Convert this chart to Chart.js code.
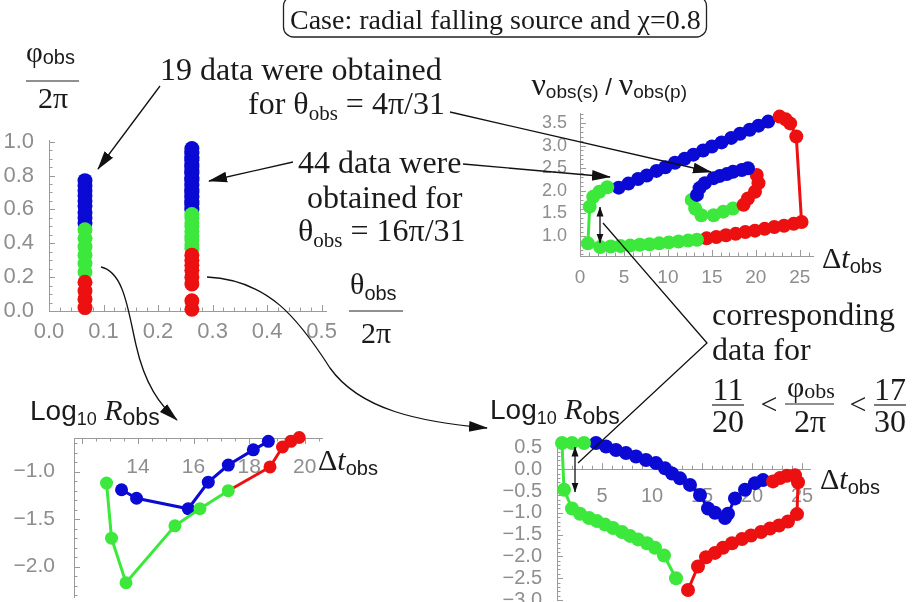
<!DOCTYPE html>
<html>
<head>
<meta charset="utf-8">
<script src="https://cdn.jsdelivr.net/npm/chart.js@4.4.1/dist/chart.umd.min.js"></script>
<style>
  html, body { margin: 0; padding: 0; background: #fff; width: 915px; height: 602px; overflow: hidden; }
  canvas { position: absolute; }
  svg { position: absolute; left: 0; top: 0; }
</style>
</head>
<body>
<canvas id="chartA" width="346" height="231" style="left:0px;top:120px;width:346px;height:231px"></canvas>
<canvas id="chartB" width="293" height="203" style="left:540px;top:93px;width:293px;height:203px"></canvas>
<canvas id="chartC" width="342" height="202" style="left:0px;top:418px;width:342px;height:202px"></canvas>
<canvas id="chartD" width="333" height="200" style="left:497px;top:420px;width:333px;height:200px"></canvas>

<svg width="915" height="602" font-family="Liberation Serif" fill="#1a1a1a">
  <defs>
    <marker id="ah" viewBox="0 0 10 10" refX="9.5" refY="5" markerWidth="19" markerHeight="19" markerUnits="userSpaceOnUse" orient="auto-start-reverse">
      <path d="M0,2.2 L10,5 L0,7.8 z" fill="#111"/>
    </marker>
    <marker id="ah2" viewBox="0 0 10 10" refX="9.5" refY="5" markerWidth="10" markerHeight="10" markerUnits="userSpaceOnUse" orient="auto-start-reverse">
      <path d="M0,1.5 L10,5 L0,8.5 z" fill="#111"/>
    </marker>
  </defs>

  <!-- title box -->
  <rect x="283.5" y="-4" width="423" height="41" rx="10" fill="none" stroke="#222" stroke-width="1.3"/>
  <text x="290" y="29" font-size="28">Case: radial falling source and χ=0.8</text>

  <!-- panel A axis labels -->
  <text x="26" y="62" font-size="29">φ<tspan font-family="Liberation Sans" font-size="20" dy="2">obs</tspan></text>
  <line x1="26" y1="81" x2="79" y2="81" stroke="#222" stroke-width="1.2"/>
  <text x="53" y="108" font-size="30" text-anchor="middle">2π</text>

  <text x="350" y="294" font-size="30">θ<tspan font-family="Liberation Sans" font-size="20" dy="6">obs</tspan></text>
  <line x1="349" y1="311" x2="403" y2="311" stroke="#222" stroke-width="1.2"/>
  <text x="376" y="343" font-size="30" text-anchor="middle">2π</text>

  <!-- annotations -->
  <text x="160" y="80" font-size="32">19 data were obtained</text>
  <text x="248" y="114" font-size="32">for θ<tspan font-size="21" dy="6">obs</tspan><tspan dy="-6"> = 4π/31</tspan></text>
  <text x="298" y="173" font-size="32">44 data were</text>
  <text x="307" y="208" font-size="32">obtained for</text>
  <text x="298" y="241" font-size="32">θ<tspan font-size="21" dy="6">obs</tspan><tspan dy="-6"> = 16π/31</tspan></text>

  <text x="712" y="325" font-size="32">corresponding</text>
  <text x="712" y="360" font-size="32">data for</text>
  <text x="728" y="400" font-size="32" text-anchor="middle">11</text>
  <line x1="712" y1="405" x2="744" y2="405" stroke="#222" stroke-width="1.2"/>
  <text x="728" y="432" font-size="32" text-anchor="middle">20</text>
  <text x="769" y="414" font-size="30" text-anchor="middle">&lt;</text>
  <text x="787" y="397" font-size="30">φ<tspan font-size="22" dy="1">obs</tspan></text>
  <line x1="785" y1="404" x2="834" y2="404" stroke="#222" stroke-width="1.2"/>
  <text x="810" y="432" font-size="32" text-anchor="middle">2π</text>
  <text x="858" y="414" font-size="30" text-anchor="middle">&lt;</text>
  <text x="890" y="400" font-size="32" text-anchor="middle">17</text>
  <line x1="874" y1="405" x2="906" y2="405" stroke="#222" stroke-width="1.2"/>
  <text x="890" y="432" font-size="32" text-anchor="middle">30</text>

  <!-- panel B labels -->
  <text x="687" y="95" font-size="32" text-anchor="end">ν<tspan font-family="Liberation Sans" font-size="19" dy="3">obs(s)</tspan><tspan font-family="Liberation Sans" font-size="24" dy="-3"> / </tspan>ν<tspan font-family="Liberation Sans" font-size="19" dy="3">obs(p)</tspan></text>
  <text x="822" y="268" font-size="30">Δ<tspan font-style="italic">t</tspan><tspan font-family="Liberation Sans" font-size="20" dy="5">obs</tspan></text>

  <!-- panel C labels -->
  <text x="30" y="420" font-family="Liberation Sans" font-size="28">Log<tspan font-size="18" dy="5">10</tspan><tspan font-family="Liberation Serif" font-style="italic" font-size="30" dy="-5"> R</tspan><tspan font-size="23" dy="5">obs</tspan></text>
  <text x="318" y="470" font-size="30">Δ<tspan font-style="italic">t</tspan><tspan font-family="Liberation Sans" font-size="20" dy="5">obs</tspan></text>

  <!-- panel D labels -->
  <text x="490" y="419" font-family="Liberation Sans" font-size="28">Log<tspan font-size="18" dy="5">10</tspan><tspan font-family="Liberation Serif" font-style="italic" font-size="30" dy="-5"> R</tspan><tspan font-size="23" dy="5">obs</tspan></text>
  <text x="820" y="489" font-size="30">Δ<tspan font-style="italic">t</tspan><tspan font-family="Liberation Sans" font-size="20" dy="5">obs</tspan></text>

  <!-- arrows and connectors -->
  <g stroke="#111" stroke-width="1.3" fill="none">
    <line x1="160" y1="86" x2="98" y2="169" marker-end="url(#ah)"/>
    <line x1="293" y1="162" x2="209" y2="181" marker-end="url(#ah)"/>
    <line x1="450" y1="112" x2="711" y2="172" marker-end="url(#ah)"/>
    <line x1="463" y1="164" x2="610" y2="177" marker-end="url(#ah)"/>
    <line x1="600" y1="207" x2="600" y2="243" marker-start="url(#ah2)" marker-end="url(#ah2)"/>
    <polyline points="603,223 707,343 578,463"/>
    <line x1="575" y1="447" x2="575" y2="492" marker-start="url(#ah2)" marker-end="url(#ah2)"/>
    <path d="M101,267 C124,272 128,310 136,345 C145,385 160,405 177,420" marker-end="url(#ah)"/>
    <path d="M207,277 C268,280 298,318 330,368 C360,410 420,422 487,428" marker-end="url(#ah)"/>
  </g>
</svg>

<script>
// colours used by the plot
const RED = 'rgb(236,16,16)';
const GREEN = 'rgb(60,232,60)';
const BLUE = 'rgb(10,10,212)';

// panel A: phi_obs/2pi of every image, two theta_obs columns
const thetaCol1 = 0.066;
const phiCol1Red = [0.02, 0.07, 0.12, 0.17];
const phiCol1Green = [0.23, 0.28, 0.33, 0.38, 0.43, 0.48];
const phiCol1Blue = [0.52, 0.55, 0.58, 0.62, 0.65, 0.68, 0.71, 0.74, 0.77];
const thetaCol2 = 0.262;
const phiCol2Red = [0.01, 0.06, 0.16, 0.20, 0.24, 0.27, 0.30, 0.33];
const phiCol2Green = [0.37, 0.39, 0.42, 0.44, 0.47, 0.50, 0.52, 0.55, 0.57];
const phiCol2Blue = [0.60, 0.61, 0.63, 0.64, 0.65, 0.67, 0.68, 0.70, 0.71, 0.72, 0.74, 0.75, 0.77, 0.78,
  0.79, 0.81, 0.82, 0.83, 0.85, 0.86, 0.87, 0.89, 0.90, 0.91, 0.93, 0.94, 0.96];

// panel B: frequency ratio vs delta t  [dt, ratio]
const bOuterGreen = [[3.1, 2.08], [2.2, 1.98], [1.5, 1.87], [1.1, 1.65], [0.9, 0.84], [2.3, 0.76], [3.5, 0.77],
  [4.6, 0.78], [5.7, 0.79], [6.8, 0.81], [7.9, 0.82], [9.0, 0.84], [10.1, 0.86], [11.2, 0.88], [12.3, 0.90], [13.3, 0.92]];
const bOuterRed = [[14.4, 0.95], [15.5, 0.98], [16.6, 1.02], [17.7, 1.05], [18.8, 1.09], [19.9, 1.12], [21.0, 1.16],
  [22.1, 1.20], [23.2, 1.23], [24.3, 1.27], [25.2, 1.31], [24.6, 3.20], [23.9, 3.49], [23.4, 3.58], [22.7, 3.64]];
const bOuterBlue = [[21.4, 3.53], [20.3, 3.44], [19.3, 3.35], [18.2, 3.26], [17.2, 3.17], [16.1, 3.07], [15.0, 2.98],
  [14.0, 2.89], [12.9, 2.80], [11.9, 2.71], [10.8, 2.62], [9.7, 2.52], [8.7, 2.44], [7.6, 2.34], [6.6, 2.26], [5.5, 2.16], [4.4, 2.07]];
const bInnerBlue = [[13.3, 1.91], [13.6, 2.06], [14.2, 2.17], [15.2, 2.28], [15.9, 2.33], [16.7, 2.37], [17.4, 2.42], [18.4, 2.46], [19.1, 2.50]];
const bInnerRed = [[20.1, 2.35], [20.3, 2.17], [19.9, 1.98], [19.1, 1.83], [18.6, 1.69]];
const bInnerGreen = [[17.4, 1.61], [16.3, 1.54], [15.2, 1.46], [13.8, 1.46], [13.1, 1.61], [12.7, 1.80]];

// panel C: log10 R vs delta t for theta = 4pi/31
const cGreen = [[12.87, -1.12], [13.05, -1.70], [13.57, -2.17], [15.33, -1.57], [16.23, -1.39], [17.25, -1.20]];
const cRed = [[17.25, -1.20], [18.75, -0.95], [19.2, -0.74], [19.5, -0.68], [19.8, -0.64]];
const cBlue = [[13.41, -1.19], [13.95, -1.28], [15.81, -1.39], [16.53, -1.11], [17.25, -0.93], [18.15, -0.77], [18.69, -0.68]];

// panel D: log10 R vs delta t for theta = 16pi/31
const dGreen = [[3.2, 0.60], [2.0, 0.60], [1.0, 0.60], [1.2, -0.47], [2.0, -0.90], [2.8, -1.02], [3.7, -1.12], [4.5, -1.19],
  [5.3, -1.27], [6.1, -1.35], [7.0, -1.44], [7.8, -1.53], [8.6, -1.61], [9.5, -1.70], [10.3, -1.80], [11.2, -1.98], [12.4, -2.50]];
const dRed = [[13.6, -2.77], [14.6, -2.23], [15.4, -2.02], [16.3, -1.92], [17.1, -1.80], [18.0, -1.70], [19.0, -1.60],
  [19.9, -1.52], [20.9, -1.44], [21.8, -1.36], [22.7, -1.29], [23.6, -1.20], [24.5, -1.03], [24.6, -0.30], [24.3, -0.14],
  [23.5, -0.15], [22.8, -0.20], [22.1, -0.28]];
const dBlue = [[21.1, -0.25], [20.3, -0.32], [19.3, -0.47], [18.3, -0.67], [17.6, -1.02], [17.3, -1.12], [16.3, -1.00],
  [15.6, -0.90], [14.8, -0.59], [13.8, -0.36], [12.8, -0.21], [12.0, -0.10], [11.3, 0.02], [10.4, 0.14], [9.4, 0.21],
  [8.4, 0.29], [7.4, 0.37], [6.4, 0.44], [5.4, 0.52], [4.4, 0.60]];

const TICK_GREY = '#8e8e8e';
const AXIS_GREY = '#9a9a9a';

function fmtDec(v) {
  return (v < 0 ? '\u2212' : '') + Math.abs(v).toFixed(1);
}

function series(pts, color, radius, extra) {
  return Object.assign({
    data: pts.map(p => ({ x: p[0], y: p[1] })),
    showLine: true,
    borderColor: color,
    backgroundColor: color,
    borderWidth: 3,
    pointRadius: radius,
    pointHoverRadius: radius,
    pointBorderWidth: 0,
    clip: false
  }, extra || {});
}

function column(theta, phis, color) {
  return series(phis.map(p => [theta, p]), color, 7.5, { showLine: false });
}

// major / minor ticks pointing into the plot
const mmaTicks = {
  id: 'mmaTicks',
  beforeDatasetsDraw(chart, args, o) {
    const ctx = chart.ctx, xs = chart.scales.x, ys = chart.scales.y;
    const yAt = o.xAt === undefined ? ys.bottom : ys.getPixelForValue(o.xAt);
    const xAt = xs.left;
    const xDir = o.xDir || -1;
    ctx.save();
    ctx.strokeStyle = AXIS_GREY;
    ctx.lineWidth = 1;
    ctx.beginPath();
    for (let i = Math.ceil(xs.min / o.xMinor - 1e-9); i * o.xMinor <= xs.max + 1e-9; i++) {
      const v = i * o.xMinor;
      const major = Math.abs(v / o.xMajor - Math.round(v / o.xMajor)) < 1e-6;
      const px = Math.round(xs.getPixelForValue(v)) + 0.5;
      ctx.moveTo(px, yAt);
      ctx.lineTo(px, yAt + xDir * (major ? 6 : 3.5));
    }
    for (let i = Math.ceil(ys.min / o.yMinor - 1e-9); i * o.yMinor <= ys.max + 1e-9; i++) {
      const v = i * o.yMinor;
      const major = Math.abs(v / o.yMajor - Math.round(v / o.yMajor)) < 1e-6;
      const py = Math.round(ys.getPixelForValue(v)) + 0.5;
      ctx.moveTo(xAt, py);
      ctx.lineTo(xAt + (major ? 6 : 3.5), py);
    }
    ctx.stroke();
    ctx.restore();
  }
};

function xAxis(min, max, step, fmt, size, pad, height, position) {
  return {
    type: 'linear', min: min, max: max, position: position,
    grid: { display: false },
    border: { display: true, color: AXIS_GREY, width: 1 },
    ticks: { stepSize: step, includeBounds: false, autoSkip: false, maxRotation: 0, padding: pad,
      color: TICK_GREY, font: { family: 'Liberation Sans', size: size }, callback: fmt },
    afterFit(s) { s.height = height; s.paddingLeft = 0; s.paddingRight = 0; }
  };
}

function yAxis(min, max, step, fmt, size, pad, width) {
  return {
    type: 'linear', min: min, max: max, position: 'left',
    grid: { display: false },
    border: { display: true, color: AXIS_GREY, width: 1 },
    ticks: { stepSize: step, includeBounds: false, autoSkip: false, padding: pad,
      color: TICK_GREY, font: { family: 'Liberation Sans', size: size }, callback: fmt },
    afterFit(s) { s.width = width; s.paddingTop = 0; s.paddingBottom = 0; }
  };
}

function makeChart(id, datasets, scales, padding, tickOpts) {
  return new Chart(document.getElementById(id), {
    type: 'scatter',
    data: { datasets: datasets },
    options: {
      responsive: false,
      animation: false,
      events: [],
      layout: { padding: padding },
      plugins: { legend: { display: false }, tooltip: { enabled: false }, mmaTicks: tickOpts },
      scales: scales
    },
    plugins: [mmaTicks]
  });
}

// panel A
makeChart('chartA', [
  column(thetaCol1, phiCol1Red, RED), column(thetaCol1, phiCol1Green, GREEN), column(thetaCol1, phiCol1Blue, BLUE),
  column(thetaCol2, phiCol2Red, RED), column(thetaCol2, phiCol2Green, GREEN), column(thetaCol2, phiCol2Blue, BLUE)
], {
  x: xAxis(0, 0.508, 0.1, v => v.toFixed(1), 22, 0, 40, 'bottom'),
  y: yAxis(0, 1.01, 0.2, v => v.toFixed(1), 22, 7, 49)
}, { left: 0, top: 20, right: 20, bottom: 0 },
{ xMajor: 0.1, xMinor: 0.02, yMajor: 0.2, yMinor: 0.05 });

// panel B
makeChart('chartB', [
  series(bOuterGreen, GREEN, 7), series(bOuterRed, RED, 7), series(bOuterBlue, BLUE, 7),
  series(bInnerBlue, BLUE, 7), series(bInnerRed, RED, 7), series(bInnerGreen, GREEN, 7)
], {
  x: xAxis(0, 26.5, 5, v => String(v), 19, 2, 40, 'bottom'),
  y: yAxis(0.56, 3.72, 0.5, v => v.toFixed(1), 18, 5, 40)
}, { left: 0, top: 20, right: 20, bottom: 0 },
{ xMajor: 5, xMinor: 1, yMajor: 0.5, yMinor: 0.1 });

// panel C
makeChart('chartC', [
  series(cGreen, GREEN, 6.5), series(cBlue, BLUE, 6.5),
  series(cRed, RED, 6.5, { pointRadius: c => (c.dataIndex === 0 ? 0 : 6.5) })
], {
  x: xAxis(11.7, 20.62, 2, v => (v < 13 ? null : String(v)), 21, 9, 0, { y: -0.645 }),
  y: yAxis(-2.32, -0.645, 0.5, fmtDec, 21, 11, 74)
}, { left: 0, top: 20, right: 20, bottom: 23 },
{ xMajor: 2, xMinor: 0.5, yMajor: 0.5, yMinor: 0.1, xAt: -0.645, xDir: 1 });

// panel D
makeChart('chartD', [
  series(dGreen, GREEN, 7), series(dRed, RED, 7), series(dBlue, BLUE, 7)
], {
  x: xAxis(0.5, 25.8, 5, v => String(v), 20, 7, 0, { y: 0 }),
  y: yAxis(-3.0, 0.67, 0.5, fmtDec, 20, 7, 60)
}, { left: 0, top: 20, right: 20, bottom: 20 },
{ xMajor: 5, xMinor: 1, yMajor: 0.5, yMinor: 0.1, xAt: 0 });
</script>
</body>
</html>
